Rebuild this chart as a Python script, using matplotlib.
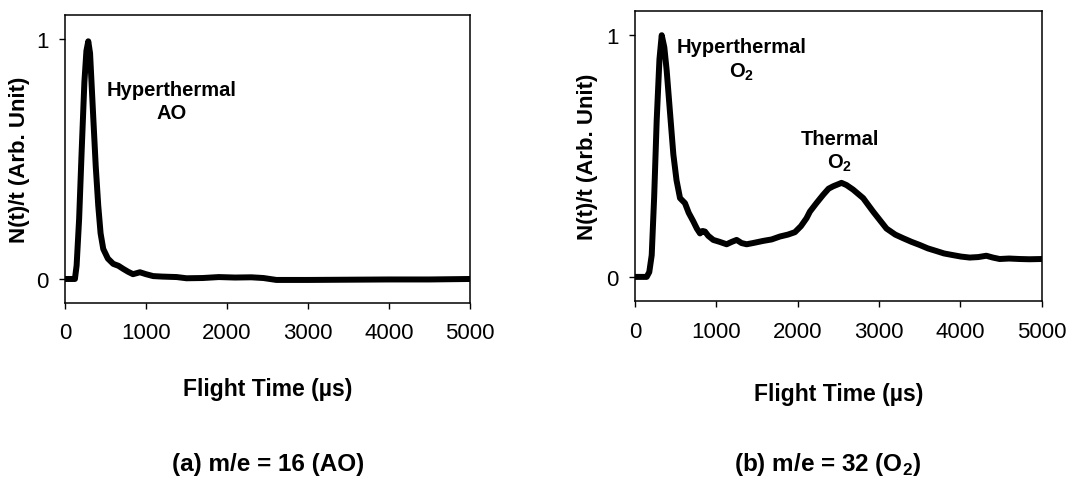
import matplotlib.pyplot as plt

plt.rcParams['font.family'] = ['Liberation Sans', 'DejaVu Sans']
plt.rcParams['mathtext.fontset'] = 'custom'
plt.rcParams['mathtext.rm'] = 'Liberation Sans'
plt.rcParams['mathtext.bf'] = 'Liberation Sans:bold'

# (a) m/e = 16, atomic oxygen
t_ao = [0, 100, 123, 144, 175, 206, 240, 265, 288, 310, 350, 380, 411, 440, 473,
        530, 596, 660, 720, 780, 840, 926, 1000, 1090, 1200, 1380, 1500, 1700,
        1900, 2100, 2300, 2450, 2610, 3000, 3500, 4000, 4500, 5000]
n_ao = [0, 0, 0, 0.056, 0.25, 0.53, 0.82, 0.95, 0.99, 0.94, 0.67, 0.47, 0.306, 0.19, 0.125,
        0.085, 0.063, 0.055, 0.042, 0.03, 0.02, 0.028, 0.02, 0.012, 0.01, 0.008, 0.003, 0.004,
        0.008, 0.006, 0.007, 0.004, -0.004, -0.004, -0.003, -0.002, -0.002, 0]

# (b) m/e = 32, molecular oxygen
t_o2 = [0, 100, 143, 175, 205, 235, 266, 300, 328, 360, 389, 430, 471, 510, 553,
        614, 660, 716, 760, 799, 830, 860, 900, 962, 1040, 1126, 1190, 1249, 1310,
        1372, 1450, 1577, 1680, 1781, 1880, 1966, 2040, 2109, 2150, 2230, 2314, 2380,
        2437, 2539, 2600, 2682, 2805, 2928, 3010, 3092, 3200, 3297, 3400, 3501, 3600,
        3706, 3800, 3911, 4010, 4115, 4220, 4320, 4400, 4484, 4600, 4730, 4850, 5000]
n_o2 = [0, 0, 0, 0.02, 0.09, 0.33, 0.646, 0.9, 1.0, 0.95, 0.854, 0.68, 0.507, 0.40, 0.326,
        0.305, 0.265, 0.23, 0.20, 0.18, 0.19, 0.1875, 0.17, 0.153, 0.145, 0.135, 0.145, 0.153, 0.14,
        0.135, 0.14, 0.149, 0.155, 0.167, 0.175, 0.185, 0.21, 0.243, 0.27, 0.305, 0.34, 0.365,
        0.375, 0.389, 0.38, 0.361, 0.326, 0.27, 0.235, 0.20, 0.175, 0.16, 0.145, 0.132, 0.118,
        0.107, 0.097, 0.09, 0.084, 0.08, 0.082, 0.0875, 0.08, 0.074, 0.076, 0.074, 0.073, 0.074]

x_ticks = [0, 1000, 2000, 3000, 4000, 5000]
y_ticks = [0, 1]

fig = plt.figure(figsize=(10.7, 4.81), dpi=100)
ax1 = fig.add_axes([0.0607, 0.368, 0.3785, 0.599])
ax2 = fig.add_axes([0.5935, 0.372, 0.380, 0.603])

panels = [
    (ax1, t_ao, n_ao, -0.086, -0.257),
    (ax2, t_o2, n_o2, -0.091, -0.28),
]
for ax, t, n, ylx, xly in panels:
    ax.plot(t, n, color='black', lw=4.3, solid_joinstyle='round', solid_capstyle='round')
    ax.set_xlim(0, 5000)
    ax.set_ylim(-0.1, 1.1)
    ax.set_xticks(x_ticks)
    ax.set_yticks(y_ticks)
    ax.tick_params(labelsize=16, length=4, width=1, direction='out')
    ax.tick_params(axis='x', pad=10)
    ax.tick_params(axis='y', pad=8)
    for s in ax.spines.values():
        s.set_linewidth(1.1)
    ax.set_xlabel('Flight Time (\u00b5s)', fontsize=16.5, fontweight='bold')
    ax.set_ylabel('N(t)/t (Arb. Unit)', fontsize=16, fontweight='bold')
    ax.yaxis.set_label_coords(ylx, 0.5)
    ax.xaxis.set_label_coords(0.5, xly)

ax1.text(1321, 0.74, 'Hyperthermal\nAO', ha='center', va='center',
         fontsize=14.5, fontweight='bold', linespacing=1.25)
ax2.text(1314, 0.90, 'Hyperthermal\nO$_\\mathbf{2}$', ha='center', va='center',
         fontsize=14.5, fontweight='bold', linespacing=1.25)
ax2.text(2518, 0.52, 'Thermal\nO$_\\mathbf{2}$', ha='center', va='center',
         fontsize=14.5, fontweight='bold', linespacing=1.25)

fig.text(268 / 1070, 1 - 465 / 481, '(a) m/e = 16 (AO)', ha='center', va='center',
         fontsize=17.5, fontweight='bold')
fig.text(828 / 1070, 1 - 465 / 481, '(b) m/e = 32 (O$_\\mathbf{2}$)', ha='center', va='center',
         fontsize=17.5, fontweight='bold')

fig.savefig('out.png', dpi=100)
